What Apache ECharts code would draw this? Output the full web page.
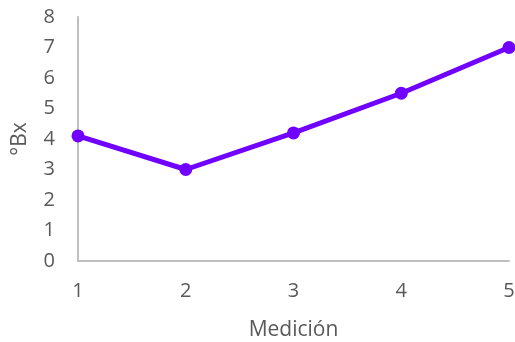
<!DOCTYPE html>
<html>
<head>
<meta charset="utf-8">
<script src="https://cdn.jsdelivr.net/npm/echarts@6/dist/echarts.min.js"></script>
<style>
html,body{margin:0;padding:0;background:#fff;}
#chart{width:515px;height:342px;}
</style>
</head>
<body>
<div id="chart"></div>
<script>
// Mediciones y grados Brix
const categories = ['1', '2', '3', '4', '5'];
const brix = [4.1, 3.0, 4.2, 5.5, 7.0];

const font = '"Open Sans", "Liberation Sans", sans-serif';
const textColor = '#595959';

const chart = echarts.init(document.getElementById('chart'));
chart.setOption({
  animation: false,
  grid: { left: 78, right: 6, top: 17, bottom: 81, containLabel: false, outerBoundsMode: 'none' },
  xAxis: {
    type: 'category',
    data: categories,
    boundaryGap: false,
    name: 'Medición',
    nameLocation: 'middle',
    nameGap: 59,
    nameTextStyle: { fontFamily: font, fontSize: 21, color: textColor },
    axisLine: { lineStyle: { color: '#bfbfbf', width: 2 } },
    axisTick: { show: false },
    axisLabel: { fontFamily: font, fontSize: 20, color: textColor, margin: 20 },
    splitLine: { show: false }
  },
  yAxis: {
    type: 'value',
    min: 0, max: 8, interval: 1,
    name: '°Bx',
    nameLocation: 'middle',
    nameGap: 47,
    nameTextStyle: { fontFamily: font, fontSize: 21, color: textColor },
    axisLine: { show: true, lineStyle: { color: '#bfbfbf', width: 2 } },
    axisTick: { show: false },
    axisLabel: { fontFamily: font, fontSize: 20, color: textColor, margin: 23 },
    splitLine: { show: false }
  },
  series: [{
    type: 'line',
    data: brix,
    symbol: 'circle',
    symbolSize: 13,
    lineStyle: { color: '#7000ff', width: 5 },
    itemStyle: { color: '#7000ff' }
  }]
});
</script>
</body>
</html>
